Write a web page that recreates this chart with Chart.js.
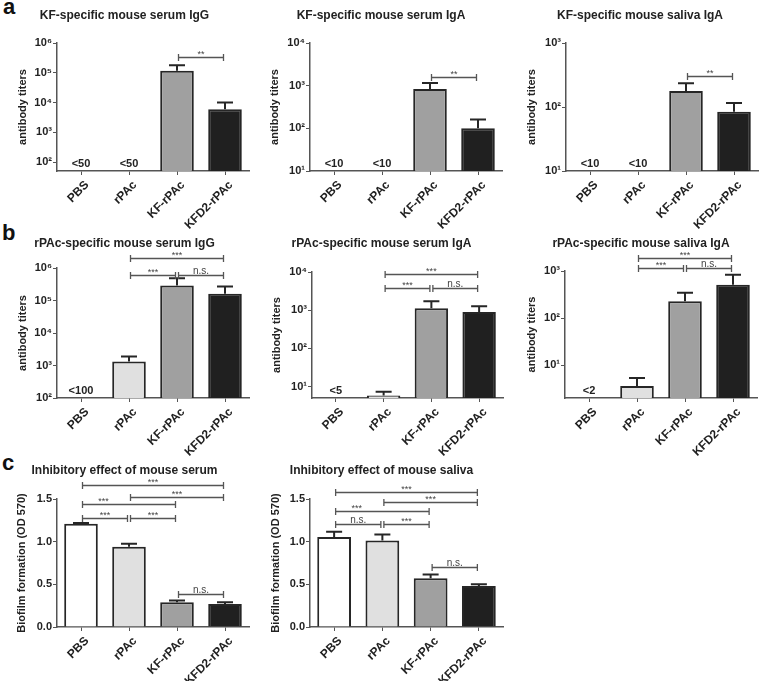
<!DOCTYPE html>
<html>
<head>
<meta charset="utf-8">
<script src="https://cdn.jsdelivr.net/npm/chart.js@4.4.1/dist/chart.umd.min.js"></script>
<style>
  body { margin: 0; background: #fff; }
  #fig { position: relative; width: 760px; height: 681px; overflow: hidden; background: #fff;
         font-family: 'Liberation Sans', Arial, sans-serif; }
  #fig canvas { position: absolute; }
  .letter { position: absolute; font-size: 22px; font-weight: bold; line-height: 22px; color: #111; }
</style>
</head>
<body>
<div id="fig">
  <div class="letter" style="left:3px;top:-4px">a</div>
  <div class="letter" style="left:2px;top:222px">b</div>
  <div class="letter" style="left:2px;top:452px">c</div>
</div>
<script>
const groups = ['PBS', 'rPAc', 'KF-rPAc', 'KFD2-rPAc'];
const barFill = ['#ffffff', '#e0e0e0', '#a0a0a0', '#202020'];

// a: KF-specific titers (PBS / rPAc below detection limit)
const kfSerumIgG = [null, null, 117000, 5900];
const kfSerumIgGErr = [null, null, 63000, 4100];
const kfSerumIgGLimit = ['<50', '<50', null, null];
const kfSerumIgA = [null, null, 830, 100];
const kfSerumIgAErr = [null, null, 320, 62];
const kfSerumIgALimit = ['<10', '<10', null, null];
const kfSalivaIgA = [null, null, 178, 84];
const kfSalivaIgAErr = [null, null, 58, 31];
const kfSalivaIgALimit = ['<10', '<10', null, null];

// b: rPAc-specific titers
const rpacSerumIgG = [null, 1320, 290000, 160000];
const rpacSerumIgGErr = [null, 580, 190000, 110000];
const rpacSerumIgGLimit = ['<100', null, null, null];
const rpacSerumIgA = [null, 5.8, 1130, 890];
const rpacSerumIgAErr = [null, 1.5, 570, 380];
const rpacSerumIgALimit = ['<5', null, null, null];
const rpacSalivaIgA = [null, 3.6, 227, 510];
const rpacSalivaIgAErr = [null, 1.7, 118, 320];
const rpacSalivaIgALimit = ['<2', null, null, null];

// c: biofilm formation (OD 570)
const serumBiofilm = [1.21, 0.94, 0.29, 0.27];
const serumBiofilmErr = [0.01, 0.035, 0.02, 0.02];
const salivaBiofilm = [1.055, 1.015, 0.57, 0.48];
const salivaBiofilmErr = [0.06, 0.07, 0.045, 0.02];

// y ticks
const ticksIgG50 = [1e2, 1e3, 1e4, 1e5, 1e6];
const ticksIgA10 = [1e1, 1e2, 1e3, 1e4];
const ticksSaliva10 = [1e1, 1e2, 1e3];
const ticksIgG100 = [1e2, 1e3, 1e4, 1e5, 1e6];
const ticksIgA5 = [1e1, 1e2, 1e3, 1e4];
const ticksSaliva2 = [1e1, 1e2, 1e3];
const ticksOD = [0, 0.5, 1.0, 1.5];

// significance brackets: [from, to, level, label, label position (optional, in categories)]
const sigKfSerumIgG = [[2, 3, 3.3e5, '**']];
const sigKfSerumIgA = [[2, 3, 1590, '**']];
const sigKfSalivaIgA = [[2, 3, 305, '**']];
const sigRpacSerumIgG = [[1, 3, 2.03e6, '***'], [1, 2, 6.1e5, '***'], [2, 3, 6.1e5, 'n.s.']];
const sigRpacSerumIgA = [[1, 3, 8900, '***'], [1, 2, 3800, '***'], [2, 3, 3800, 'n.s.']];
const sigRpacSalivaIgA = [[1, 3, 1890, '***'], [1, 2, 1160, '***'], [2, 3, 1160, 'n.s.']];
const sigSerumBiofilm = [[0, 3, 1.665, '***'], [1, 3, 1.52, '***'], [0, 2, 1.44, '***', 0.47],
                         [0, 1, 1.28, '***'], [1, 2, 1.28, '***'], [2, 3, 0.39, 'n.s.']];
const sigSalivaBiofilm = [[0, 3, 1.58, '***'], [1, 3, 1.465, '***'], [0, 2, 1.36, '***', 0.47],
                          [0, 1, 1.21, 'n.s.'], [1, 2, 1.21, '***'], [2, 3, 0.70, 'n.s.']];

Chart.defaults.font.family = "'Liberation Sans', Arial, sans-serif";
Chart.defaults.color = '#222';

const SUP = { '0': '⁰', '1': '¹', '2': '²', '3': '³', '4': '⁴', '5': '⁵', '6': '⁶' };
const powLabel = v => '10' + SUP[String(Math.round(Math.log10(v)))];

// error bars, "<n" labels and significance brackets
const annotPlugin = {
  id: 'annot',
  afterDatasetsDraw(chart, args, opts) {
    const { ctx } = chart;
    const x = chart.scales.x, y = chart.scales.y;
    const values = chart.data.datasets[0].data;
    ctx.save();

    ctx.strokeStyle = '#262626';
    ctx.lineWidth = 2;
    (opts.err || []).forEach((e, i) => {
      if (values[i] == null || e == null) return;
      const cx = x.getPixelForValue(i);
      const y0 = y.getPixelForValue(values[i]);
      const y1 = y.getPixelForValue(values[i] + e);
      ctx.beginPath();
      ctx.moveTo(cx, y0);
      ctx.lineTo(cx, y1);
      ctx.moveTo(cx - 8, y1);
      ctx.lineTo(cx + 8, y1);
      ctx.stroke();
    });

    ctx.fillStyle = '#222';
    ctx.font = "bold 11px 'Liberation Sans', Arial, sans-serif";
    ctx.textAlign = 'center';
    ctx.textBaseline = 'alphabetic';
    (opts.limits || []).forEach((t, i) => {
      if (!t) return;
      ctx.fillText(t, x.getPixelForValue(i), chart.chartArea.bottom - 4);
    });

    ctx.strokeStyle = '#555';
    ctx.lineWidth = 1.3;
    (opts.brackets || []).forEach(([a, b, level, label, at]) => {
      const x1 = x.getPixelForValue(a) + 1.5;
      const x2 = x.getPixelForValue(b) - 1.5;
      const yy = Math.round(y.getPixelForValue(level)) + 0.5;
      ctx.beginPath();
      ctx.moveTo(x1, yy); ctx.lineTo(x2, yy);
      ctx.moveTo(x1, yy - 3.5); ctx.lineTo(x1, yy + 3.5);
      ctx.moveTo(x2, yy - 3.5); ctx.lineTo(x2, yy + 3.5);
      ctx.stroke();
      const lx = at == null ? (x1 + x2) / 2 : x.getPixelForValue(a) + (x.getPixelForValue(1) - x.getPixelForValue(0)) * at;
      ctx.fillStyle = '#444';
      if (label === 'n.s.') {
        ctx.font = "10px 'Liberation Sans', Arial, sans-serif";
        ctx.fillText(label, lx, yy - 2);
      } else {
        ctx.font = "9px 'Liberation Sans', Arial, sans-serif";
        ctx.fillText(label, lx, yy - 0.5);
      }
    });
    ctx.restore();
  }
};

function makePanel(p) {
  const canvas = document.createElement('canvas');
  canvas.width = p.box[2];
  canvas.height = p.box[3];
  canvas.style.left = p.box[0] + 'px';
  canvas.style.top = p.box[1] + 'px';
  document.getElementById('fig').appendChild(canvas);

  const isLog = p.type === 'logarithmic';
  return new Chart(canvas, {
    type: 'bar',
    data: {
      labels: groups,
      datasets: [{
        data: p.data,
        backgroundColor: barFill,
        borderColor: '#262626',
        borderWidth: 2,
        barPercentage: 0.7,
        categoryPercentage: 1.0
      }]
    },
    plugins: [annotPlugin],
    options: {
      responsive: false,
      animation: false,
      layout: { padding: { left: 0, right: p.padR, top: 0, bottom: 0 } },
      plugins: {
        legend: { display: false },
        tooltip: { enabled: false },
        title: {
          display: true,
          text: p.title,
          color: '#222',
          font: { size: 12, weight: 'bold' },
          padding: { top: 0, bottom: p.titlePad }
        },
        annot: { err: p.err, limits: p.limits, brackets: p.brackets }
      },
      scales: {
        x: {
          grid: { drawOnChartArea: false, drawTicks: true, tickLength: 4, offset: false, color: '#555' },
          border: { color: '#555', width: 1.5 },
          ticks: {
            autoSkip: false, minRotation: 45, maxRotation: 45, padding: 3, labelOffset: 6,
            color: '#222', font: { size: 12, weight: 'bold' }
          },
          afterFit(s) { s.height = 60; }
        },
        y: {
          type: p.type,
          min: p.min,
          max: p.max,
          grid: { drawOnChartArea: false, drawTicks: true, tickLength: 4, color: '#555' },
          border: { color: '#555', width: 1.5 },
          ticks: {
            padding: 1,
            color: '#222',
            font: { size: 11, weight: 'bold' },
            callback: v => isLog ? powLabel(v) : Number(v).toFixed(1)
          },
          afterBuildTicks(s) { s.ticks = p.ticks.map(v => ({ value: v })); },
          afterFit(s) { s.width = p.yW; },
          title: {
            display: true,
            text: p.yTitle,
            color: '#222',
            font: { size: 11, weight: 'bold' },
            padding: { top: p.yTitlePad, bottom: 0 }
          }
        }
      }
    }
  });
}

const panels = [
  { box: [0, 8, 262, 223], yW: 57, padR: 13, titlePad: 20.6, yTitlePad: 16.4,
    title: 'KF-specific mouse serum IgG', yTitle: 'antibody titers', type: 'logarithmic',
    min: 50, max: 1e6, ticks: ticksIgG50, data: kfSerumIgG, err: kfSerumIgGErr,
    limits: kfSerumIgGLimit, brackets: sigKfSerumIgG },
  { box: [260, 8, 260, 223], yW: 50, padR: 18, titlePad: 20.6, yTitlePad: 8.4,
    title: 'KF-specific mouse serum IgA', yTitle: 'antibody titers', type: 'logarithmic',
    min: 10, max: 1e4, ticks: ticksIgA10, data: kfSerumIgA, err: kfSerumIgAErr,
    limits: kfSerumIgALimit, brackets: sigKfSerumIgA },
  { box: [522, 8, 238, 223], yW: 44, padR: 2, titlePad: 20.6, yTitlePad: 3.4,
    title: 'KF-specific mouse saliva IgA', yTitle: 'antibody titers', type: 'logarithmic',
    min: 10, max: 1e3, ticks: ticksSaliva10, data: kfSalivaIgA, err: kfSalivaIgAErr,
    limits: kfSalivaIgALimit, brackets: sigKfSalivaIgA },
  { box: [0, 236, 262, 222], yW: 57, padR: 13, titlePad: 17.6, yTitlePad: 16.4,
    title: 'rPAc-specific mouse serum IgG', yTitle: 'antibody titers', type: 'logarithmic',
    min: 100, max: 1e6, ticks: ticksIgG100, data: rpacSerumIgG, err: rpacSerumIgGErr,
    limits: rpacSerumIgGLimit, brackets: sigRpacSerumIgG },
  { box: [260, 236, 260, 222], yW: 52, padR: 17, titlePad: 21.6, yTitlePad: 10.4,
    title: 'rPAc-specific mouse serum IgA', yTitle: 'antibody titers', type: 'logarithmic',
    min: 5, max: 1e4, ticks: ticksIgA5, data: rpacSerumIgA, err: rpacSerumIgAErr,
    limits: rpacSerumIgALimit, brackets: sigRpacSerumIgA },
  { box: [525, 236, 238, 222], yW: 40, padR: 6, titlePad: 20.6, yTitlePad: 0.4,
    title: 'rPAc-specific mouse saliva IgA', yTitle: 'antibody titers', type: 'logarithmic',
    min: 2, max: 1e3, ticks: ticksSaliva2, data: rpacSalivaIgA, err: rpacSalivaIgAErr,
    limits: rpacSalivaIgALimit, brackets: sigRpacSalivaIgA },
  { box: [0, 463, 284, 224], yW: 57, padR: 35, titlePad: 21.6, yTitlePad: 15.4,
    title: 'Inhibitory effect of mouse serum', yTitle: 'Biofilm formation (OD 570)', type: 'linear',
    min: 0, max: 1.5, ticks: ticksOD, data: serumBiofilm, err: serumBiofilmErr,
    limits: [], brackets: sigSerumBiofilm },
  { box: [260, 463, 272, 224], yW: 50, padR: 29, titlePad: 21.6, yTitlePad: 9.4,
    title: 'Inhibitory effect of mouse saliva', yTitle: 'Biofilm formation (OD 570)', type: 'linear',
    min: 0, max: 1.5, ticks: ticksOD, data: salivaBiofilm, err: salivaBiofilmErr,
    limits: [], brackets: sigSalivaBiofilm }
];

panels.forEach(makePanel);
</script>
</body>
</html>
